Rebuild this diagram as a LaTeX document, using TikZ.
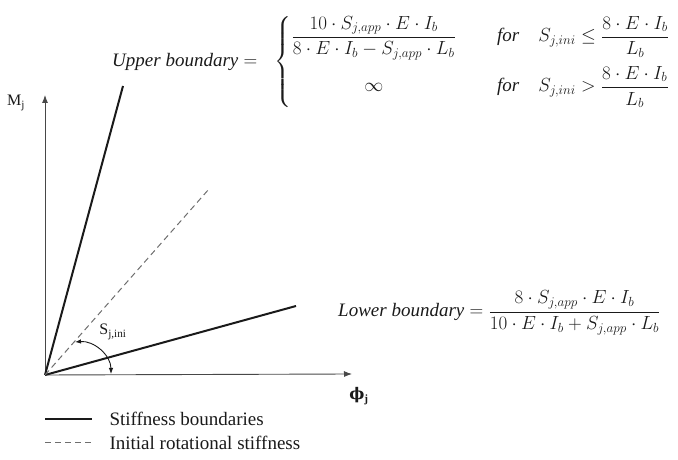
\documentclass[tikz,border=0pt]{standalone}
\usepackage{amsmath}
\usepackage{graphicx}
\usepackage{fontspec}
\setmainfont{Liberation Serif}
\newfontfamily\phifont{DejaVu Serif}
\usetikzlibrary{arrows.meta}
\definecolor{ink}{HTML}{1A1A1A}
\definecolor{dashB}{HTML}{6E6E6E}
\tikzset{
  axis/.style={line width=0.9pt, draw=ink!80, -{Latex[length=8pt, width=6pt]}},
  bound/.style={line width=2pt, draw=ink},
  initial/.style={line width=1pt, draw=dashB, dash pattern=on 6pt off 4pt},
  label/.style={font=\fontsize{16}{18}\selectfont, text=ink},
  formula/.style={font=\fontsize{17.28}{20}\selectfont, text=ink, inner sep=0pt},
  legend/.style={font=\fontsize{19}{21}\selectfont, text=ink, anchor=west}
}
\newcommand{\eqscale}[1]{\scalebox{1.1}{#1}}

\begin{document}
\begin{tikzpicture}[x=1pt,y=1pt]
\useasboundingbox (0,0) rectangle (678,460);

% axes
\coordinate (O) at (45,85);
\coordinate (ytip) at (45,365);
\coordinate (xtip) at (352,86);
\draw[axis] (O) -- (ytip);
\draw[axis] (O) -- (xtip);
\node[label] (Mj) at (16,357) {M\textsubscript{j}};
\node[label] (phij) at (359,64) {{\phifont\bfseries ϕ}\textsubscript{\textbf{j}}};

% boundaries and initial stiffness
\coordinate (upper) at (123,374);
\coordinate (lower) at (296,154);
\coordinate (ini) at (209,271);
\draw[bound] (O) -- (upper);
\draw[bound] (O) -- (lower);
\draw[initial] (O) -- (ini);

% angle of S_j,ini
\coordinate (arcA) at (75,118);
\coordinate (arcB) at (111,86);
\draw[line width=0.9pt, draw=ink, {Latex[length=6pt, width=4.5pt]}-{Latex[length=6pt, width=4.5pt]}]
  (arcA) to[out=5, in=90] (arcB);
\node[label] (Sini) at (113,128) {S\textsubscript{j,ini}};

% formulas
\node[formula, anchor=west] (upperEq) at (112,398)
{\eqscale{$\mathit{Upper\ boundary} =\hspace{11pt} \left\{\begin{array}{@{}c@{\qquad\,}l@{}}
\displaystyle\frac{10\cdot S_{j,app}\cdot E\cdot I_b}{8\cdot E\cdot I_b - S_{j,app}\cdot L_b} & \mathit{for}\quad S_{j,ini}\le\displaystyle\frac{8\cdot E\cdot I_b}{L_b}\\[16pt]
\infty & \mathit{for}\quad S_{j,ini}>\displaystyle\frac{8\cdot E\cdot I_b}{L_b}
\end{array}\right.$}};
\node[formula, anchor=west] (lowerEq) at (338,147)
{\eqscale{$\mathit{Lower\ boundary} = \dfrac{8\cdot S_{j,app}\cdot E\cdot I_b}{10\cdot E\cdot I_b + S_{j,app}\cdot L_b}$}};

% legend
\coordinate (legA1) at (45,41);
\coordinate (legA2) at (92,41);
\coordinate (legB1) at (45,17);
\coordinate (legB2) at (92,17);
\draw[bound] (legA1) -- (legA2);
\draw[initial] (legB1) -- (legB2);
\node[legend] (legA) at (106,41) {Stiffness boundaries};
\node[legend] (legB) at (106,17) {Initial rotational stiffness};
\end{tikzpicture}
\end{document}
